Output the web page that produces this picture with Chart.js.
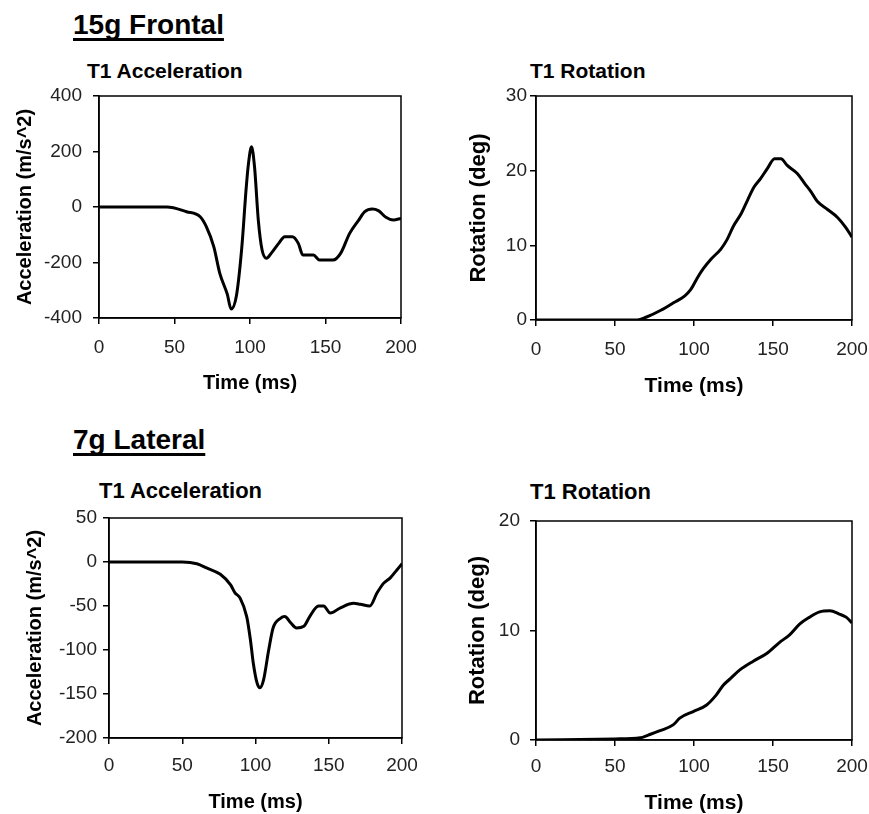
<!DOCTYPE html>
<html>
<head>
<meta charset="utf-8">
<script src="https://cdn.jsdelivr.net/npm/chart.js@4.4.1/dist/chart.umd.min.js"></script>
<style>
  html, body { margin: 0; padding: 0; background: #fff; overflow: hidden; }
  body { width: 869px; height: 814px; position: relative; font-family: "Liberation Sans", Arial, sans-serif; color: #000; }
  .caja { position: absolute; }
  .seccion {
    position: absolute; font-weight: bold; font-size: 28px; line-height: 28px; white-space: nowrap;
    text-decoration: underline; text-decoration-thickness: 3px; text-underline-offset: 4px;
    text-decoration-skip-ink: none;
  }
  .titulo { position: absolute; font-weight: bold; white-space: nowrap; }
</style>
</head>
<body>
<div class="seccion" style="left:73px; top:11px">15g Frontal</div>
<div class="titulo" style="left:87px; top:60px; font-size:21px; line-height:21px">T1 Acceleration</div>
<div class="titulo" style="left:530px; top:60px; font-size:21px; line-height:21px">T1 Rotation</div>

<div class="seccion" style="left:73px; top:426px">7g Lateral</div>
<div class="titulo" style="left:99px; top:480px; font-size:22px; line-height:22px">T1 Acceleration</div>
<div class="titulo" style="left:530px; top:481px; font-size:22px; line-height:22px">T1 Rotation</div>

<div class="caja" style="left:0px; top:80px; width:420px; height:318px"><canvas id="frontalAcc"></canvas></div>
<div class="caja" style="left:440px; top:80px; width:429px; height:320px"><canvas id="frontalRot"></canvas></div>
<div class="caja" style="left:0px; top:500px; width:420px; height:314px"><canvas id="lateralAcc"></canvas></div>
<div class="caja" style="left:440px; top:500px; width:429px; height:314px"><canvas id="lateralRot"></canvas></div>

<script>
// 15g Frontal - T1 Acceleration
const frontalAccTime = [0, 45, 58, 67, 71, 76, 80, 85, 87.5, 91, 94.5, 97.5, 99, 101, 103, 105.5, 108, 111, 114, 119, 123, 128, 132, 135, 142, 146, 155, 160, 166, 172, 176, 181, 185, 190, 195, 200];
const frontalAccValues = [0, 0, -17, -35, -70, -143, -239, -315, -368, -320, -150, 70, 157, 217, 145, -47, -155, -185, -167, -131, -107, -107, -131, -173, -173, -191, -191, -167, -95, -47, -17, -7, -13, -37, -47, -41];

// 15g Frontal - T1 Rotation
const frontalRotTime = [0, 64, 70, 79, 87, 94, 98, 102, 106, 111, 117, 121, 125, 130, 134, 138, 142, 146.5, 151, 155, 159, 165.5, 170, 174, 178, 184.5, 191, 196, 200];
const frontalRotValues = [0, 0, 0.4, 1.3, 2.3, 3.2, 4.1, 5.6, 6.9, 8.2, 9.5, 10.8, 12.6, 14.3, 16.1, 17.8, 18.9, 20.3, 21.6, 21.6, 20.7, 19.6, 18.3, 17.2, 15.9, 14.8, 13.7, 12.4, 11.1];

// 7g Lateral - T1 Acceleration
const lateralAccTime = [0, 50, 60, 67, 76, 83, 86, 89.5, 94, 96.5, 98.5, 101, 103, 105.5, 109, 112, 117, 120, 124, 128, 133, 137, 143, 146.5, 151, 158, 167, 171.5, 178, 183, 187.5, 192, 196.5, 200];
const lateralAccValues = [0, 0, -2, -7, -14, -26, -35, -41, -62, -88, -115, -137, -143, -134, -100, -75, -64, -62, -69, -75, -73, -62, -50, -50, -58, -52, -47, -48, -50, -35, -24, -18, -9, -2];

// 7g Lateral - T1 Rotation
const lateralRotTime = [0, 50, 66, 71, 78.5, 87, 91, 99.5, 108, 114, 118.5, 123, 129, 137.5, 146, 154, 160.5, 167, 173, 179.5, 186, 192, 196.5, 200];
const lateralRotValues = [0, 0.1, 0.2, 0.45, 0.85, 1.4, 2.0, 2.6, 3.2, 4.1, 5.0, 5.6, 6.4, 7.2, 7.9, 8.9, 9.6, 10.6, 11.2, 11.7, 11.8, 11.5, 11.2, 10.7];

const timeTicks = { min: 0, max: 200, step: 50 };
const fuente = '"Liberation Sans", Arial, sans-serif';

// marco completo alrededor del área de trazado (estilo Excel)
const marco = {
  id: 'marco',
  afterDatasetsDraw(chart) {
    const { ctx, chartArea: a } = chart;
    ctx.save();
    ctx.strokeStyle = '#000';
    ctx.lineWidth = 1.5;
    ctx.strokeRect(a.left, a.top, a.right - a.left, a.bottom - a.top);
    ctx.restore();
  }
};

function crearGrafico(id, tiempos, valores, opc) {
  const grid = { display: true, drawOnChartArea: false, drawTicks: true, tickLength: 6, color: '#000', lineWidth: 1.5 };
  return new Chart(document.getElementById(id), {
    type: 'line',
    data: {
      datasets: [{
        data: tiempos.map((t, i) => ({ x: t, y: valores[i] })),
        borderColor: '#000',
        borderWidth: 3,
        pointRadius: 0,
        cubicInterpolationMode: 'monotone',
        fill: false
      }]
    },
    options: {
      responsive: true,
      maintainAspectRatio: false,
      animation: false,
      layout: { padding: opc.padding },
      plugins: { legend: { display: false }, tooltip: { enabled: false } },
      scales: {
        x: {
          type: 'linear',
          min: timeTicks.min,
          max: timeTicks.max,
          // alto fijo; el padding del layout manda sobre el de las etiquetas
          afterFit: s => { s.height = opc.altoX; s.paddingLeft = 0; s.paddingRight = 0; },
          ticks: { stepSize: timeTicks.step, padding: opc.padTickX, maxRotation: 0, color: '#222', font: { family: fuente, size: 19 } },
          grid: grid,
          border: { display: true, color: '#000', width: 1.5 },
          title: {
            display: true, text: 'Time (ms)', color: '#000',
            font: { family: fuente, size: opc.tamTituloX, weight: 'bold', lineHeight: 1 },
            padding: { top: 0, bottom: opc.padTituloX }
          }
        },
        y: {
          min: opc.yMin,
          max: opc.yMax,
          afterFit: s => { s.width = opc.anchoY; s.paddingTop = 0; s.paddingBottom = 0; },
          ticks: { stepSize: opc.yStep, padding: opc.padTickY, color: '#222', font: { family: fuente, size: 19 } },
          grid: grid,
          border: { display: true, color: '#000', width: 1.5 },
          title: {
            display: true, text: opc.tituloY, color: '#000',
            font: { family: fuente, size: opc.tamTituloY, weight: 'bold', lineHeight: 1 },
            padding: { top: opc.padTituloY, bottom: 0 }
          }
        }
      }
    },
    plugins: [marco]
  });
}

crearGrafico('frontalAcc', frontalAccTime, frontalAccValues, {
  padding: { top: 16, right: 19, left: 0, bottom: 0 },
  altoX: 80, padTickX: 12, tamTituloX: 20, padTituloX: 5,
  anchoY: 99, padTickY: 11, tamTituloY: 20, padTituloY: 15,
  yMin: -400, yMax: 400, yStep: 200, tituloY: 'Acceleration (m/s^2)'
});

crearGrafico('frontalRot', frontalRotTime, frontalRotValues, {
  padding: { top: 16, right: 17, left: 0, bottom: 0 },
  altoX: 80, padTickX: 12, tamTituloX: 21, padTituloX: 3,
  anchoY: 96, padTickY: 3, tamTituloY: 22, padTituloY: 28,
  yMin: 0, yMax: 30, yStep: 10, tituloY: 'Rotation (deg)'
});

crearGrafico('lateralAcc', lateralAccTime, lateralAccValues, {
  padding: { top: 18, right: 18, left: 0, bottom: 0 },
  altoX: 76, padTickX: 10, tamTituloX: 20, padTituloX: 2,
  anchoY: 109, padTickY: 6, tamTituloY: 20, padTituloY: 25,
  yMin: -200, yMax: 50, yStep: 50, tituloY: 'Acceleration (m/s^2)'
});

crearGrafico('lateralRot', lateralRotTime, lateralRotValues, {
  padding: { top: 21, right: 17, left: 0, bottom: 0 },
  altoX: 74, padTickX: 9, tamTituloX: 21, padTituloX: 0,
  anchoY: 96, padTickY: 10, tamTituloY: 22, padTituloY: 27,
  yMin: 0, yMax: 20, yStep: 10, tituloY: 'Rotation (deg)'
});
</script>
</body>
</html>
